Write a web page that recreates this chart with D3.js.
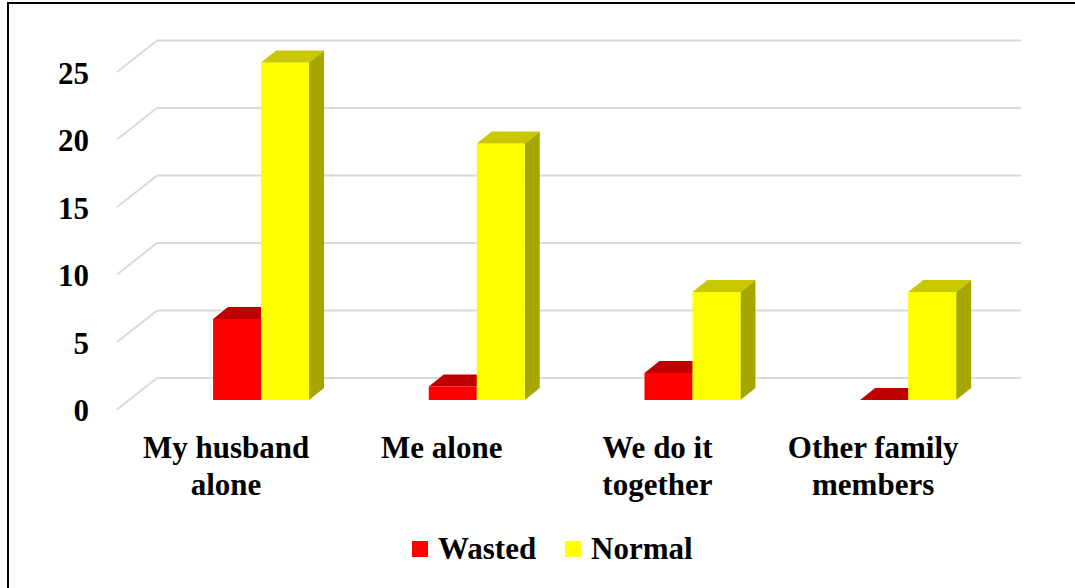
<!DOCTYPE html>
<html>
<head>
<meta charset="utf-8">
<script src="https://cdn.jsdelivr.net/npm/d3@7"></script>
<style>
  html, body { margin: 0; padding: 0; background: #ffffff; }
  svg { display: block; }
  text { font-family: "Liberation Serif", "Times New Roman", serif; font-weight: bold; fill: #000; }
</style>
</head>
<body>
<svg id="chart" width="1075" height="588"></svg>
<script>
// ---- data ----
const categories = [["My husband", "alone"], ["Me alone"], ["We do it", "together"], ["Other family", "members"]];
const seriesNames = ["Wasted", "Normal"];
const wasted = [6, 1, 2, 0];
const normal = [25, 19, 8, 8];
const tickValues = [0, 5, 10, 15, 20, 25];

// ---- styles ----
const colors = {
  Wasted: { front: "#ff0000", top: "#c00000", side: "#a00000" },
  Normal: { front: "#ffff00", top: "#c8c800", side: "#a6a600" }
};

const svg = d3.select("#chart");
const W = 1075, H = 588;

// frame (extends past right/bottom edges as in reference)
svg.append("rect").attr("x", 8).attr("y", 3).attr("width", 1100).attr("height", 620)
  .attr("fill", "none").attr("stroke", "#000").attr("stroke-width", 2);

// scales
const catKeys = categories.map(c => c.join(" "));
const x = d3.scaleBand().domain(catKeys).range([153.2, 1016]).padding(0);
const barW = 48;
const xs = d3.scaleBand().domain(seriesNames).range([-barW, barW]).padding(0);
const y = d3.scaleLinear().domain([0, 25]).range([400, 62.5]);

// 3D offsets
const wallDx = 0, wallDy = -22;         // back wall relative to bar front plane
const floorDx = -40, floorDy = 31.5;    // front edge relative to back wall
const depthDx = 15, depthDy = -12;      // bar depth
const wallX0 = 157, wallX1 = 1021;

// gridlines (back wall + left side wall diagonal)
const grid = svg.append("g");
tickValues.forEach(v => {
  const yb = y(v) + wallDy;
  grid.append("line").attr("x1", wallX0).attr("x2", wallX1).attr("y1", yb).attr("y2", yb)
    .attr("stroke", "#d9d9d9").attr("stroke-width", 2);
  grid.append("line").attr("x1", wallX0).attr("y1", yb)
    .attr("x2", wallX0 + floorDx).attr("y2", yb + floorDy)
    .attr("stroke", "#d9d9d9").attr("stroke-width", 2);
});

// y tick labels
const yAxisG = svg.append("g");
tickValues.forEach(v => {
  yAxisG.append("text").attr("x", 89).attr("y", y(v) + 21)
    .attr("text-anchor", "end").attr("font-size", 31).text(v);
});

// bars
const data = [];
catKeys.forEach((c, i) => {
  data.push({ cat: c, s: "Wasted", v: wasted[i] });
  data.push({ cat: c, s: "Normal", v: normal[i] });
});
const barsG = svg.append("g");
data.forEach(d => {
  const cx = x(d.cat) + x.bandwidth() / 2;
  const x0 = cx + xs(d.s);
  const x1 = x0 + xs.bandwidth();
  const yt = y(d.v), yb = y(0);
  const c = colors[d.s];
  const g = barsG.append("g");
  // side face
  g.append("polygon").attr("fill", c.side)
    .attr("points", [[x1, yt], [x1 + depthDx, yt + depthDy], [x1 + depthDx, yb + depthDy], [x1, yb]].map(p => p.join(",")).join(" "));
  // front face
  if (yb - yt > 0) {
    g.append("rect").attr("x", x0).attr("y", yt).attr("width", x1 - x0).attr("height", yb - yt).attr("fill", c.front);
  }
  // top face
  g.append("polygon").attr("fill", c.top)
    .attr("points", [[x0, yt], [x0 + depthDx, yt + depthDy], [x1 + depthDx, yt + depthDy], [x1, yt]].map(p => p.join(",")).join(" "));
});

// category labels
const catG = svg.append("g");
categories.forEach((lines, i) => {
  const cx = x(catKeys[i]) + x.bandwidth() / 2 - 35;
  const t = catG.append("text").attr("text-anchor", "middle").attr("font-size", 31);
  lines.forEach((ln, j) => {
    t.append("tspan").attr("x", cx).attr("y", 458 + j * 37).text(ln);
  });
});

// legend
const legendX = [412, 565];
const legG = svg.append("g");
seriesNames.forEach((s, i) => {
  legG.append("rect").attr("x", legendX[i]).attr("y", 541).attr("width", 16).attr("height", 16)
    .attr("fill", colors[s].front);
  legG.append("text").attr("x", legendX[i] + 26).attr("y", 559).attr("font-size", 31).text(s);
});
</script>
</body>
</html>
